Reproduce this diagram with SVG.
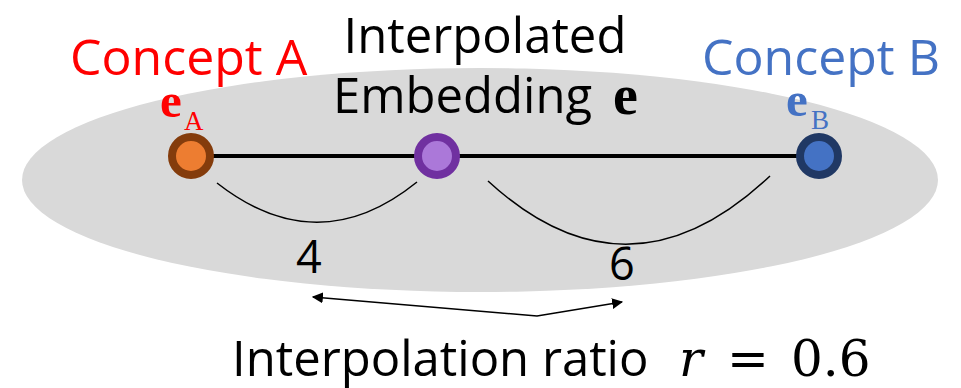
<svg xmlns="http://www.w3.org/2000/svg" width="961" height="388" viewBox="0 0 961 388">
  <style>
    .lbl { font-family: "Open Sans", "Noto Sans", sans-serif; }
    .math { font-family: "Liberation Serif", "DejaVu Serif", serif; font-weight: bold; }
    .sub { font-weight: normal; }
    .mathr { font-family: "DejaVu Serif", serif; }
    .arc { fill: none; stroke: #000; stroke-width: 1.5; }
  </style>
  <defs>
    <marker id="head" viewBox="0 0 10 10" refX="9" refY="5" markerWidth="11" markerHeight="11" markerUnits="userSpaceOnUse" orient="auto-start-reverse">
      <path d="M0,0 L10,5 L0,10 z" fill="#000"/>
    </marker>
  </defs>

  <!-- embedding space -->
  <ellipse cx="480" cy="180" rx="458" ry="112" fill="#D9D9D9"/>

  <g id="connectors">
    <line x1="192" y1="156" x2="820" y2="156" stroke="#000" stroke-width="4"/>
    <path class="arc" d="M217,183 Q318,262 417,182"/>
    <path class="arc" d="M488,181 Q628,310 770,176"/>
    <polyline points="313,297 537,316 622,302" fill="none" stroke="#000" stroke-width="1.5" marker-start="url(#head)" marker-end="url(#head)"/>
  </g>

  <g id="conceptA">
    <text class="lbl" x="70" y="75" font-size="50" fill="#FF0000">Concept A</text>
    <text class="math" x="160" y="117" font-size="49" fill="#FF0000">e<tspan class="sub" x="184" y="130" font-size="27">A</tspan></text>
    <circle cx="191" cy="156" r="19" fill="#ED7D31" stroke="#843C0C" stroke-width="8"/>
  </g>

  <g id="interpolated">
    <text class="lbl" x="485" y="53" font-size="49" text-anchor="middle" fill="#000">Interpolated</text>
    <text class="lbl" x="333" y="113" font-size="49" fill="#000">Embedding <tspan class="math" x="613" y="114" font-size="56">e</tspan></text>
    <circle cx="437" cy="156" r="19" fill="#AB78D9" stroke="#7030A0" stroke-width="8"/>
  </g>

  <g id="conceptB">
    <text class="lbl" x="702" y="75" font-size="50" fill="#4472C4">Concept B</text>
    <text class="math" x="786" y="116" font-size="49" fill="#4472C4">e<tspan class="sub" x="811" y="129" font-size="27">B</tspan></text>
    <circle cx="819" cy="156" r="19" fill="#4472C4" stroke="#203864" stroke-width="8"/>
  </g>

  <g id="ratios">
    <text class="lbl" x="296" y="273" font-size="45">4</text>
    <text class="lbl" x="609" y="280" font-size="45">6</text>
    <text class="lbl" x="232" y="376" font-size="49">Interpolation ratio <tspan class="mathr" x="679" font-style="italic" font-size="50">r</tspan><tspan class="mathr" x="727" font-size="50">=</tspan><tspan class="mathr" x="791" font-size="50">0.6</tspan></text>
  </g>
</svg>
